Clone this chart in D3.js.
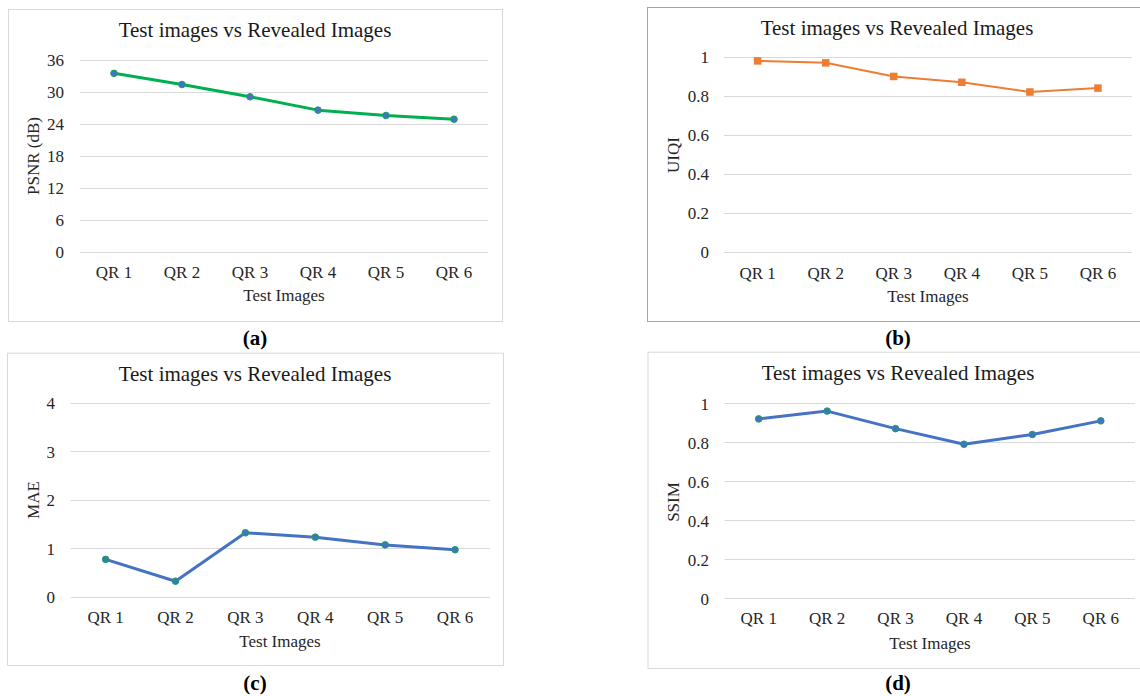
<!DOCTYPE html>
<html>
<head>
<meta charset="utf-8">
<script src="https://cdn.jsdelivr.net/npm/d3@7"></script>
<style>
  html, body { margin: 0; padding: 0; background: #fff; }
  svg { display: block; font-family: "Liberation Serif", "Times New Roman", serif; }
</style>
</head>
<body>
<svg id="chart" width="1140" height="696"></svg>
<script>
// ---------- data ----------
const categories = ["QR 1", "QR 2", "QR 3", "QR 4", "QR 5", "QR 6"];
const psnrValues = [33.5, 31.4, 29.1, 26.6, 25.6, 24.9];
const uiqiValues = [0.98, 0.97, 0.90, 0.87, 0.82, 0.84];
const maeValues  = [0.77, 0.32, 1.32, 1.23, 1.07, 0.97];
const ssimValues = [0.92, 0.96, 0.87, 0.79, 0.84, 0.91];
const psnrTicks = [0, 6, 12, 18, 24, 30, 36];
const uiqiTicks = [0, 0.2, 0.4, 0.6, 0.8, 1];
const maeTicks  = [0, 1, 2, 3, 4];
const ssimTicks = [0, 0.2, 0.4, 0.6, 0.8, 1];
const chartTitle = "Test images vs Revealed Images";
const xTitle = "Test Images";
const yTitles = ["PSNR (dB)", "UIQI", "MAE", "SSIM"];
const panelLetters = ["(a)", "(b)", "(c)", "(d)"];

// ---------- layout / style ----------
const panels = [
  { values: psnrValues, ticks: psnrTicks, yMax: 36, yTitle: yTitles[0], letter: panelLetters[0],
    box: [8, 9, 502, 321], boxColor: "#d9d9d9", plot: [80, 60, 488, 252], tickX: 64, catY: 272,
    xTitlePos: [284, 295], titlePos: [255, 30], yTitlePos: [33, 156], letterPos: [255, 338],
    line: "#00b050", lineW: 3, marker: "circle", mFill: "#4472c4", mStroke: "#1aa35a" },
  { values: uiqiValues, ticks: uiqiTicks, yMax: 1, yTitle: yTitles[1], letter: panelLetters[1],
    box: [647, 7, 1146, 321], boxColor: "#a6a6a6", plot: [723.6, 57, 1132, 251.5], tickX: 709,
    catY: 273, xTitlePos: [928, 296], titlePos: [897, 28], yTitlePos: [673, 155], letterPos: [898, 338],
    line: "#ed7d31", lineW: 2, marker: "square", mFill: "#ed7d31", mStroke: "#ed7d31" },
  { values: maeValues, ticks: maeTicks, yMax: 4, yTitle: yTitles[2], letter: panelLetters[2],
    box: [7, 352.7, 503, 665], boxColor: "#d9d9d9", plot: [70.7, 403, 490, 596.7], tickX: 55,
    catY: 617, xTitlePos: [280, 641], titlePos: [255, 374], yTitlePos: [33, 500], letterPos: [255, 683],
    line: "#4472c4", lineW: 3, marker: "circle", mFill: "#4472c4", mStroke: "#1aa35a" },
  { values: ssimValues, ticks: ssimTicks, yMax: 1, yTitle: yTitles[3], letter: panelLetters[3],
    box: [647.5, 351.7, 1146, 668], boxColor: "#d9d9d9", plot: [724.5, 403.3, 1135, 598.3], tickX: 709,
    catY: 618, xTitlePos: [930, 643], titlePos: [898, 373], yTitlePos: [673, 502], letterPos: [898, 683],
    line: "#4472c4", lineW: 3, marker: "circle", mFill: "#4472c4", mStroke: "#1aa35a" }
];

const svg = d3.select("#chart");

panels.forEach(p => {
  const g = svg.append("g");
  const [bx0, by0, bx1, by1] = p.box;
  g.append("rect").attr("x", bx0 + 0.5).attr("y", by0 + 0.5)
    .attr("width", bx1 - bx0).attr("height", by1 - by0)
    .attr("fill", "#fff").attr("stroke", p.boxColor).attr("stroke-width", 1);

  const [px0, py0, px1, py1] = p.plot;
  const x = d3.scaleBand().domain(categories).range([px0, px1]);
  const y = d3.scaleLinear().domain([0, p.yMax]).range([py1, py0]);

  // gridlines
  g.append("g").selectAll("line").data(p.ticks).join("line")
    .attr("x1", px0).attr("x2", px1)
    .attr("y1", d => Math.round(y(d)) + 0.5).attr("y2", d => Math.round(y(d)) + 0.5)
    .attr("stroke", "#d9d9d9").attr("stroke-width", 1);

  // y axis labels
  const yAxis = d3.axisLeft(y).tickValues(p.ticks).tickSize(0).tickPadding(0)
    .tickFormat(d => String(+d.toFixed(2)));
  const ya = g.append("g").attr("transform", `translate(${p.tickX},0)`).call(yAxis);
  ya.select(".domain").remove();
  ya.selectAll("text").attr("font-size", 17).attr("fill", "#262626")
    .attr("font-family", "Liberation Serif").attr("dy", "0.35em");

  // x axis labels
  const xAxis = d3.axisBottom(x).tickSize(0).tickPadding(0);
  const xa = g.append("g").attr("transform", `translate(0,${p.catY})`).call(xAxis);
  xa.select(".domain").remove();
  xa.selectAll("text").attr("font-size", 17).attr("fill", "#262626")
    .attr("font-family", "Liberation Serif").attr("dy", "0.35em");

  // line
  const line = d3.line()
    .x((d, i) => x(categories[i]) + x.bandwidth() / 2)
    .y(d => y(d));
  g.append("path").datum(p.values).attr("d", line)
    .attr("fill", "none").attr("stroke", p.line).attr("stroke-width", p.lineW)
    .attr("stroke-linejoin", "round").attr("stroke-linecap", "round");

  // markers
  if (p.marker === "circle") {
    g.append("g").selectAll("circle").data(p.values).join("circle")
      .attr("cx", (d, i) => x(categories[i]) + x.bandwidth() / 2)
      .attr("cy", d => y(d)).attr("r", 3.3)
      .attr("fill", p.mFill).attr("stroke", p.mStroke).attr("stroke-width", 1);
  } else {
    const s = 7.5;
    g.append("g").selectAll("rect").data(p.values).join("rect")
      .attr("x", (d, i) => x(categories[i]) + x.bandwidth() / 2 - s / 2)
      .attr("y", d => y(d) - s / 2).attr("width", s).attr("height", s)
      .attr("fill", p.mFill);
  }

  // texts
  g.append("text").attr("x", p.titlePos[0]).attr("y", p.titlePos[1]).attr("dy", "0.35em")
    .attr("text-anchor", "middle").attr("font-size", 21).attr("fill", "#1a1a1a").text(chartTitle);
  g.append("text").attr("x", p.xTitlePos[0]).attr("y", p.xTitlePos[1]).attr("dy", "0.35em")
    .attr("text-anchor", "middle").attr("font-size", 17).attr("fill", "#262626").text(xTitle);
  g.append("text").attr("transform", `translate(${p.yTitlePos[0]},${p.yTitlePos[1]}) rotate(-90)`)
    .attr("dy", "0.35em").attr("text-anchor", "middle").attr("font-size", 17)
    .attr("fill", "#262626").text(p.yTitle);
  svg.append("text").attr("x", p.letterPos[0]).attr("y", p.letterPos[1]).attr("dy", "0.35em")
    .attr("text-anchor", "middle").attr("font-size", 21).attr("font-weight", "bold")
    .attr("fill", "#000").text(p.letter);
});
</script>
</body>
</html>
